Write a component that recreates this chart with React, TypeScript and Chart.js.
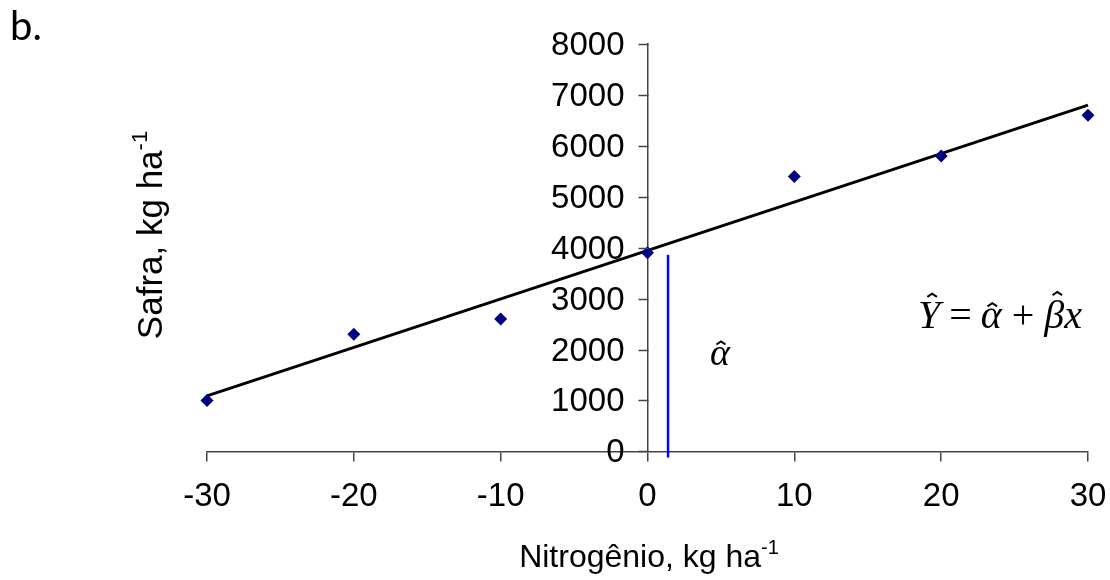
import React, { useEffect, useRef } from "react";
import { Chart, registerables } from "chart.js";

Chart.register(...registerables);

// ---- data ----
const nitrogen = [-30, -20, -10, 0, 10, 20, 30];
const yieldValues = [1000, 2300, 2600, 3900, 5400, 5800, 6600];
const fitX = [-30, 30];
const fitY = [1090, 6800];
const alphaLineX = [1.4, 1.4];
const alphaLineY = [-120, 3860];
const xTickValues = [-30, -20, -10, 0, 10, 20, 30];
const yTickValues = [0, 1000, 2000, 3000, 4000, 5000, 6000, 7000, 8000];

const panelLabel = "b.";
const xTitle = "Nitrogênio, kg ha";
const yTitle = "Safra, kg ha";
const unitSup = "-1";

const SANS = "'Liberation Sans', Arial, sans-serif";
const SERIF = "'Liberation Serif', 'Times New Roman', serif";
const TICK_SIZE = 33;

function drawWithSup(
  ctx: CanvasRenderingContext2D,
  main: string,
  sup: string,
  cx: number,
  cy: number,
  size: number
) {
  ctx.font = `${size}px ${SANS}`;
  const w1 = ctx.measureText(main).width;
  ctx.font = `${Math.round(size * 0.62)}px ${SANS}`;
  const w2 = ctx.measureText(sup).width;
  const total = w1 + w2;
  const x0 = cx - total / 2;
  ctx.textAlign = "left";
  ctx.textBaseline = "alphabetic";
  ctx.font = `${size}px ${SANS}`;
  ctx.fillText(main, x0, cy);
  ctx.font = `${Math.round(size * 0.62)}px ${SANS}`;
  ctx.fillText(sup, x0 + w1, cy - size * 0.42);
}

function drawHatted(
  ctx: CanvasRenderingContext2D,
  ch: string,
  x: number,
  y: number,
  size: number,
  hatDx: number,
  hatDy: number
) {
  ctx.font = `italic ${size}px ${SERIF}`;
  ctx.fillText(ch, x, y);
  const w = ctx.measureText(ch).width;
  const hx = x + w / 2 + hatDx;
  const hy = y - hatDy;
  ctx.save();
  ctx.lineWidth = size * 0.05;
  ctx.beginPath();
  ctx.moveTo(hx - size * 0.12, hy + size * 0.08);
  ctx.lineTo(hx, hy);
  ctx.lineTo(hx + size * 0.12, hy + size * 0.08);
  ctx.stroke();
  ctx.restore();
  return w;
}

const textPlugin = {
  id: "textPlugin",
  afterDraw(chart: any) {
    const ctx: CanvasRenderingContext2D = chart.ctx;
    const xs = chart.scales.x;
    const ys = chart.scales.y;
    ctx.save();
    ctx.fillStyle = "#000";
    ctx.strokeStyle = "#000";

    // y axis tick marks and labels (axis placed at x = 0)
    const ax = Math.round(xs.getPixelForValue(0)) + 0.5;
    ctx.strokeStyle = "#444";
    ctx.lineWidth = 1.5;
    ctx.font = `${TICK_SIZE}px ${SANS}`;
    ctx.textAlign = "right";
    ctx.textBaseline = "middle";
    for (const v of yTickValues) {
      const py = Math.round(ys.getPixelForValue(v)) + 0.5;
      ctx.beginPath();
      ctx.moveTo(ax - 10, py);
      ctx.lineTo(ax, py);
      ctx.stroke();
      ctx.fillText(String(v), ax - 24, py + 1);
    }
    ctx.strokeStyle = "#000";

    // panel label
    ctx.font = `40px Lato, 'Open Sans', sans-serif`;
    ctx.textAlign = "left";
    ctx.textBaseline = "alphabetic";
    ctx.fillText(panelLabel, 10, 40);

    // x title
    drawWithSup(ctx, xTitle, unitSup, 649, 567, 32);

    // y title (rotated)
    ctx.save();
    ctx.translate(162, 235);
    ctx.rotate(-Math.PI / 2);
    drawWithSup(ctx, yTitle, unitSup, 0, 0, 35);
    ctx.restore();

    // equation
    const size = 40;
    let x = 918;
    const y = 328;
    ctx.textAlign = "left";
    ctx.textBaseline = "alphabetic";
    x += drawHatted(ctx, "Y", x, y, size, 3, size * 0.86);
    ctx.font = `${size}px ${SERIF}`;
    ctx.fillText(" = ", x - 1, y);
    x += ctx.measureText(" = ").width - 2;
    x += drawHatted(ctx, "α", x, y, size, 1, size * 0.62);
    ctx.font = `${size}px ${SERIF}`;
    ctx.fillText(" + ", x, y);
    x += ctx.measureText(" + ").width;
    x += drawHatted(ctx, "β", x, y, size, 3, size * 0.9);
    ctx.font = `italic ${size}px ${SERIF}`;
    ctx.fillText("x", x, y);

    // alpha label
    drawHatted(ctx, "α", 710, 365, 38, 1, 38 * 0.62);

    ctx.restore();
  },
};

export default function App() {
  const ref = useRef<HTMLCanvasElement | null>(null);

  useEffect(() => {
    document.body.style.margin = "0";
    const canvas = ref.current;
    if (!canvas) return;
    const chart = new Chart(canvas, {
      type: "scatter",
      data: {
        datasets: [
          {
            label: "obs",
            data: nitrogen.map((v, i) => ({ x: v, y: yieldValues[i] })),
            pointStyle: "rectRot",
            pointRadius: 6.5,
            backgroundColor: "#000080",
            borderColor: "#000080",
            borderWidth: 0,
            showLine: false,
            clip: false,
          } as any,
          {
            label: "fit",
            data: fitX.map((v, i) => ({ x: v, y: fitY[i] })),
            showLine: true,
            borderColor: "#000",
            borderWidth: 3,
            pointRadius: 0,
            clip: false,
          } as any,
          {
            label: "alpha",
            data: alphaLineX.map((v, i) => ({ x: v, y: alphaLineY[i] })),
            showLine: true,
            borderColor: "#0000ff",
            borderWidth: 2.5,
            pointRadius: 0,
            clip: false,
          } as any,
        ],
      },
      options: {
        responsive: false,
        animation: false,
        devicePixelRatio: 1,
        layout: { padding: { left: 207, right: 22, top: 44, bottom: 47 } },
        plugins: { legend: { display: false }, tooltip: { enabled: false } },
        scales: {
          x: {
            type: "linear",
            position: "bottom",
            min: -30,
            max: 30,
            afterBuildTicks: (s: any) => {
              s.ticks = xTickValues.map((v) => ({ value: v }));
            },
            afterFit: (s: any) => {
              s.paddingLeft = 0;
              s.paddingRight = 0;
            },
            grid: {
              drawOnChartArea: false,
              drawTicks: true,
              tickLength: 10,
              color: "#444",
              lineWidth: 1.5,
            },
            border: { display: true, color: "#444", width: 1.5 },
            ticks: {
              padding: 16,
              color: "#000",
              font: { family: SANS, size: TICK_SIZE },
              maxRotation: 0,
              autoSkip: false,
              callback: (v: any) => String(v),
            },
          },
          y: {
            type: "linear",
            position: { x: 0 } as any,
            min: 0,
            max: 8000,
            afterBuildTicks: (s: any) => {
              s.ticks = yTickValues.map((v) => ({ value: v }));
            },
            grid: { display: false },
            border: { display: true, color: "#444", width: 1.5 },
            ticks: { display: false },
          },
        },
      },
      plugins: [textPlugin],
    });
    return () => chart.destroy();
  }, []);

  return (
    <div style={{ width: 1110, height: 580, background: "#fff" }}>
      <canvas ref={ref} width={1110} height={580} style={{ display: "block" }} />
    </div>
  );
}
